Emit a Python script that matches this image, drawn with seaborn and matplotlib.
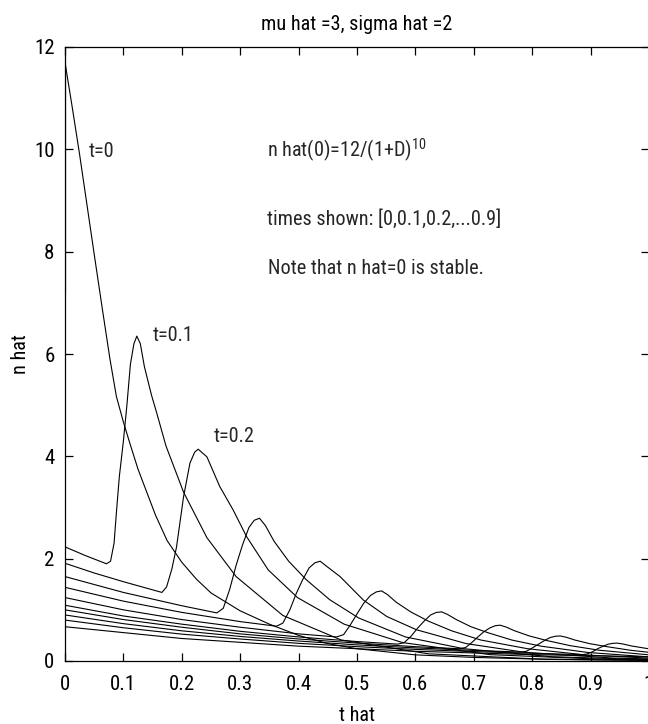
import seaborn as sns
import pandas as pd
import matplotlib
matplotlib.use("Agg")
import matplotlib.pyplot as plt
from matplotlib import font_manager

# curves, one pair of lists per time
t00_x = [0, 0.012, 0.025, 0.05, 0.065, 0.077, 0.088, 0.1, 0.112, 0.125, 0.14, 0.155, 0.175, 0.2, 0.225, 0.25,
         0.3, 0.35, 0.4, 0.45, 0.5, 0.6, 0.7, 0.8, 0.9, 1.0]
t00_y = [11.7, 10.85, 9.9, 7.95, 6.8, 5.9, 5.17, 4.67, 4.22, 3.75, 3.3, 2.85, 2.35, 1.93, 1.6, 1.33,
         0.98, 0.72, 0.5, 0.34, 0.24, 0.12, 0.07, 0.04, 0.025, 0.015]

t01_x = [0, 0.035, 0.071, 0.078, 0.084, 0.088, 0.093, 0.1, 0.106, 0.112, 0.118, 0.123, 0.129, 0.136, 0.148,
         0.157, 0.173, 0.203, 0.243, 0.293, 0.373, 0.473, 0.623, 0.823, 1.0]
t01_y = [2.23, 2.06, 1.90, 1.95, 2.3, 2.9, 3.6, 4.3, 5.0, 5.8, 6.2, 6.35, 6.2, 5.75, 5.2,
         4.85, 4.2, 3.3, 2.41, 1.65, 0.89, 0.41, 0.14, 0.032, 0.013]

t02_x = [0, 0.05, 0.1, 0.166, 0.174, 0.183, 0.191, 0.203, 0.214, 0.222, 0.228, 0.243, 0.265, 0.288, 0.311,
         0.348, 0.398, 0.478, 0.578, 0.728, 0.928, 1.0]
t02_y = [1.91, 1.72, 1.55, 1.34, 1.45, 1.8, 2.23, 3.21, 3.87, 4.08, 4.14, 3.99, 3.41, 2.95, 2.43,
         1.78, 1.24, 0.72, 0.36, 0.124, 0.031, 0.02]

t03_x = [0, 0.1, 0.2, 0.26, 0.271, 0.282, 0.293, 0.304, 0.315, 0.324, 0.333, 0.343, 0.358, 0.383, 0.413,
         0.453, 0.503, 0.583, 0.683, 0.833, 1.0]
t03_y = [1.65, 1.34, 1.08, 0.94, 1.03, 1.40, 1.87, 2.27, 2.61, 2.75, 2.79, 2.65, 2.34, 1.95, 1.59,
         1.20, 0.84, 0.47, 0.24, 0.084, 0.026]

t04_x = [0, 0.1, 0.2, 0.3, 0.362, 0.373, 0.385, 0.396, 0.407, 0.418, 0.428, 0.437, 0.447, 0.471, 0.511,
         0.551, 0.602, 0.687, 0.787, 0.937, 1.0]
t04_y = [1.44, 1.17, 0.95, 0.77, 0.68, 0.74, 1.0, 1.32, 1.59, 1.82, 1.92, 1.95, 1.86, 1.65, 1.19,
         0.87, 0.61, 0.34, 0.17, 0.058, 0.04]

t05_x = [0, 0.1, 0.2, 0.3, 0.4, 0.465, 0.477, 0.488, 0.5, 0.511, 0.523, 0.533, 0.542, 0.552, 0.567,
         0.592, 0.622, 0.662, 0.712, 0.792, 0.892, 1.0]
t05_y = [1.24, 1.0, 0.81, 0.66, 0.53, 0.47, 0.515, 0.695, 0.92, 1.12, 1.28, 1.35, 1.37, 1.30, 1.15,
         0.96, 0.78, 0.59, 0.41, 0.24, 0.118, 0.056]

t06_x = [0, 0.1, 0.2, 0.3, 0.4, 0.5, 0.57, 0.581, 0.593, 0.604, 0.615, 0.626, 0.636, 0.645, 0.655,
         0.67, 0.695, 0.725, 0.765, 0.815, 0.895, 1.0]
t06_y = [1.09, 0.88, 0.72, 0.58, 0.47, 0.38, 0.33, 0.36, 0.49, 0.645, 0.78, 0.90, 0.95, 0.96, 0.91,
         0.81, 0.67, 0.55, 0.41, 0.29, 0.167, 0.08]

t07_x = [0, 0.1, 0.2, 0.3, 0.4, 0.5, 0.6, 0.675, 0.686, 0.696, 0.707, 0.717, 0.728, 0.737, 0.745,
         0.755, 0.77, 0.795, 0.825, 0.865, 0.915, 1.0]
t07_y = [1.0, 0.81, 0.66, 0.53, 0.43, 0.35, 0.28, 0.24, 0.263, 0.355, 0.47, 0.57, 0.65, 0.69, 0.70,
         0.665, 0.59, 0.49, 0.40, 0.30, 0.21, 0.12]

t08_x = [0, 0.1, 0.2, 0.3, 0.4, 0.5, 0.6, 0.7, 0.78, 0.79, 0.80, 0.811, 0.821, 0.831, 0.84, 0.848,
         0.858, 0.873, 0.898, 0.928, 0.968, 1.0]
t08_y = [0.9, 0.73, 0.59, 0.48, 0.39, 0.315, 0.256, 0.207, 0.175, 0.19, 0.254, 0.33, 0.40, 0.46, 0.484, 0.49,
         0.465, 0.41, 0.34, 0.28, 0.21, 0.17]

t09_x = [0, 0.1, 0.2, 0.3, 0.4, 0.5, 0.6, 0.7, 0.8, 0.885, 0.894, 0.903, 0.912, 0.921, 0.93, 0.938,
         0.945, 0.955, 0.97, 1.0]
t09_y = [0.8, 0.65, 0.525, 0.43, 0.345, 0.28, 0.227, 0.184, 0.15, 0.125, 0.136, 0.18, 0.24, 0.287, 0.328, 0.345,
         0.35, 0.333, 0.294, 0.238]

t10_x = [0, 0.2, 0.4, 0.6, 0.8, 1.0]
t10_y = [0.67, 0.44, 0.29, 0.19, 0.125, 0.082]

# the thick bit on the left edge
edge_x = [0, 0]
edge_y = [7.2, 11.7]

curves = {
    "t00": (t00_x, t00_y), "t01": (t01_x, t01_y), "t02": (t02_x, t02_y),
    "t03": (t03_x, t03_y), "t04": (t04_x, t04_y), "t05": (t05_x, t05_y),
    "t06": (t06_x, t06_y), "t07": (t07_x, t07_y), "t08": (t08_x, t08_y),
    "t09": (t09_x, t09_y), "t10": (t10_x, t10_y), "edge": (edge_x, edge_y),
}

rows = []
for name, (xs, ys) in curves.items():
    for x, y in zip(xs, ys):
        rows.append({"curve": name, "D": x, "n": y})
df = pd.DataFrame(rows)

sns.set_style("ticks")

# look for a narrow font, the original uses one
entries = font_manager.fontManager.ttflist
narrow = [f for f in entries if f.stretch == "condensed" and f.style == "normal"
          and f.weight in (400, "normal", "regular")]
prefer = ["Liberation Sans Narrow", "Roboto Condensed", "DejaVu Sans", "Open Sans", "Noto Sans", "Roboto"]
pick = None
for p in prefer:
    for f in narrow:
        if f.name == p:
            pick = f
            break
    if pick:
        break
if pick is None and narrow:
    pick = narrow[0]

if pick is not None:
    plt.rcParams["font.family"] = [pick.name, "DejaVu Sans"]
    plt.rcParams["font.stretch"] = "condensed"
    fs, fs_tick = 14.6, 15
else:
    plt.rcParams["font.family"] = ["DejaVu Sans"]
    fs, fs_tick = 12.5, 13
plt.rcParams["mathtext.default"] = "regular"

fig = plt.figure(figsize=(6.48, 7.24), dpi=100)
ax = fig.add_axes([65 / 648, 63 / 724, 584 / 648, 614 / 724])

sns.lineplot(data=df, x="D", y="n", units="curve", estimator=None, sort=False,
             color="black", lw=0.8, ax=ax)

ax.set_xlim(0, 1)
ax.set_ylim(0, 12)
ax.set_xticks([0, 0.1, 0.2, 0.3, 0.4, 0.5, 0.6, 0.7, 0.8, 0.9, 1.0])
ax.set_xticklabels(["0", "0.1", "0.2", "0.3", "0.4", "0.5", "0.6", "0.7", "0.8", "0.9", "1"])
ax.set_yticks([0, 2, 4, 6, 8, 10, 12])
ax.tick_params(direction="in", length=6, width=0.9, top=True, right=True,
               labelsize=fs_tick, color="black", labelcolor="black")
ax.tick_params(axis="y", pad=7.5)
ax.tick_params(axis="x", pad=10)
for s in ax.spines.values():
    s.set_linewidth(0.9)
    s.set_color("black")

ax.set_xlabel("t hat", fontsize=fs, labelpad=9, color="black")
ax.set_ylabel("n hat", fontsize=fs, labelpad=3, color="black")
ax.set_title("mu hat =3, sigma hat =2", fontsize=fs, pad=12, color="black")

ax.text(0.04, 9.95, "t=0", fontsize=fs, va="center")
ax.text(0.151, 6.37, "t=0.1", fontsize=fs, va="center")
ax.text(0.254, 4.38, "t=0.2", fontsize=fs, va="center")
ax.text(0.346, 9.99, "n hat(0)=12/(1+D)$^{10}$", fontsize=fs, va="center")
ax.text(0.346, 8.64, "times shown: [0,0.1,0.2,...0.9]", fontsize=fs, va="center")
ax.text(0.348, 7.68, "Note that n hat=0 is stable.", fontsize=fs, va="center")

fig.savefig("out.png", dpi=100, facecolor="white")
